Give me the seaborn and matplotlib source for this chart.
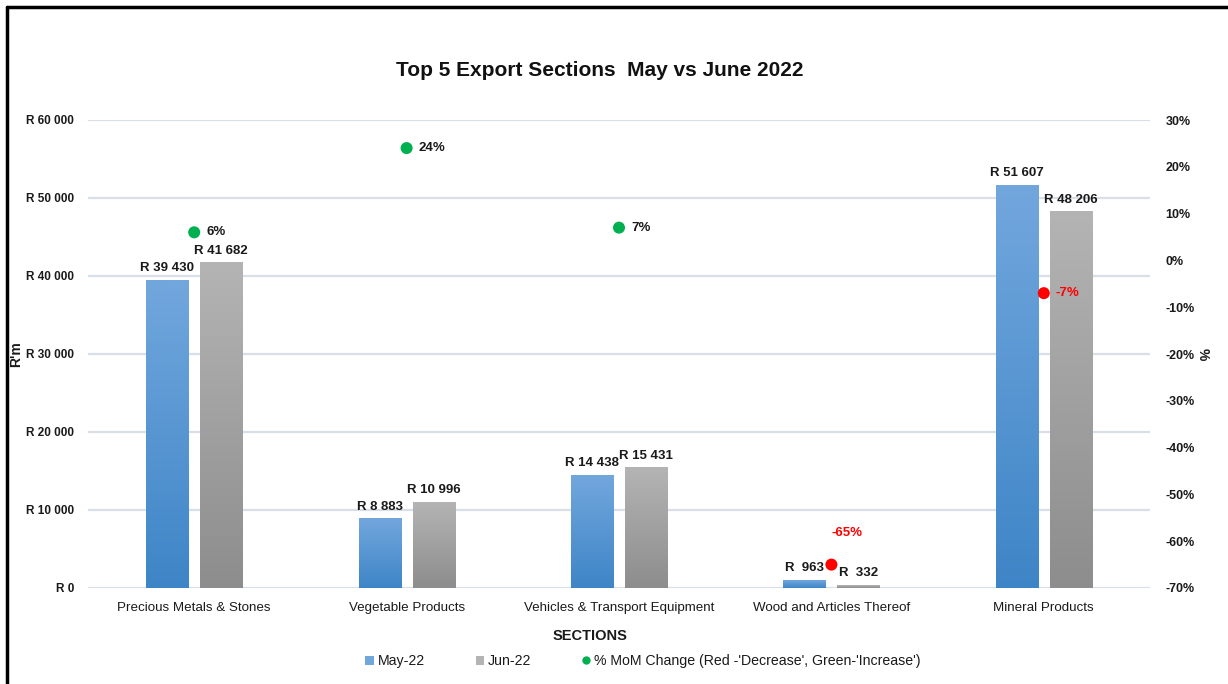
import matplotlib
matplotlib.use("Agg")
import matplotlib.pyplot as plt
import matplotlib.colors as mcolors
from matplotlib.lines import Line2D
from matplotlib.patches import Patch
import numpy as np
import pandas as pd
import seaborn as sns

# Chart data
sections = ["Precious Metals & Stones", "Vegetable Products",
            "Vehicles & Transport Equipment", "Wood and Articles Thereof",
            "Mineral Products"]
may_22 = [39430, 8883, 14438, 963, 51607]
jun_22 = [41682, 10996, 15431, 332, 48206]
mom_change = [0.06, 0.24, 0.07, -0.65, -0.07]
months = ["May-22", "Jun-22"]
left_ticks = [0, 10000, 20000, 30000, 40000, 50000, 60000]
right_ticks = [-0.7, -0.6, -0.5, -0.4, -0.3, -0.2, -0.1, 0.0, 0.1, 0.2, 0.3]

df = pd.DataFrame({
    "section": sections * 2,
    "month": [months[0]] * len(sections) + [months[1]] * len(sections),
    "value": may_22 + jun_22,
})
pct_df = pd.DataFrame({"pos": np.arange(len(sections)), "pct": mom_change})
pct_df["trend"] = np.where(pct_df["pct"] >= 0, "Increase", "Decrease")

sns.set_theme(style="white")
plt.rcParams["font.family"] = ["Liberation Sans", "DejaVu Sans"]

BLUE = ("#3E85C7", "#72A7DD")   # bottom, top
GRAY = ("#8D8D8D", "#B4B4B4")
GREEN = "#00B050"
RED = "#FF0000"
GRID = "#D9DEE7"
INK = "#1a1a1a"

fig = plt.figure(figsize=(12.28, 6.84), dpi=100)
ax = fig.add_axes([88 / 1228, 1 - 588 / 684, 1062 / 1228, 468 / 684])

sns.barplot(data=df, x="section", y="value", hue="month", order=sections,
            hue_order=months, palette=[BLUE[1], GRAY[1]], width=0.508,
            gap=0.22, legend=False, ax=ax, zorder=2)

# gradient fill on each bar + value labels
n = len(sections)
for i, bar in enumerate(ax.patches[:2 * n]):
    lo, hi = BLUE if i < n else GRAY
    cmap = mcolors.LinearSegmentedColormap.from_list("g", [lo, hi])
    x0, y0 = bar.get_x(), bar.get_y()
    w, h = bar.get_width(), bar.get_height()
    grad = np.linspace(0, 1, 256).reshape(-1, 1)
    ax.imshow(grad, cmap=cmap, origin="lower", aspect="auto",
              extent=[x0, x0 + w, y0, y0 + h], zorder=3)
    bar.set_alpha(0)
    txt = f"R {int(h):,}".replace(",", " ") if h >= 1000 else f"R  {int(h)}"
    ax.annotate(txt, (x0 + w / 2, h), xytext=(0, 6), textcoords="offset pixels",
                ha="center", va="bottom", fontsize=9.5, fontweight="bold",
                color=INK, zorder=5)

ax.set_xlim(-0.5, n - 0.5)
ax.set_ylim(0, 60000)
ax.set_yticks(left_ticks)
ax.set_yticklabels(["R 0" if t == 0 else f"R {t:,}".replace(",", " ")
                    for t in left_ticks], fontsize=8.5, fontweight="bold",
                   color=INK)
ax.tick_params(axis="y", length=0, pad=10)
ax.tick_params(axis="x", length=0, pad=10, labelsize=9.6, colors=INK)
ax.grid(axis="y", color=GRID, linewidth=1.6, zorder=0)
ax.set_axisbelow(True)
for s in ax.spines.values():
    s.set_visible(False)
ax.set_ylabel("R'm", fontsize=10, fontweight="bold", color=INK, rotation=90,
              ha="center", va="center")
ax.yaxis.set_label_coords(-0.068, 0.5)
ax.set_xlabel("")

ax2 = ax.twinx()
sns.scatterplot(data=pct_df, x="pos", y="pct", hue="trend",
                palette={"Increase": GREEN, "Decrease": RED}, s=75,
                linewidth=0, legend=False, ax=ax2, zorder=6)
ax2.set_ylim(-0.70, 0.30)
ax2.set_yticks(right_ticks)
ax2.set_yticklabels([f"{round(t * 100)}%" for t in right_ticks], fontsize=9,
                    fontweight="bold", color=INK)
ax2.tick_params(axis="y", length=0, pad=11)
for s in ax2.spines.values():
    s.set_visible(False)
ax2.set_ylabel("%", fontsize=10, fontweight="bold", rotation=270, color=INK,
               ha="center", va="center")
ax2.yaxis.set_label_coords(1.05, 0.5)
ax2.set_xlabel("")
ax2.grid(False)

for p, v in zip(pct_df["pos"], pct_df["pct"]):
    tcol = INK if v >= 0 else RED
    if v < -0.5:
        ax2.annotate(f"{round(v * 100)}%", (p, v), xytext=(16, 32),
                     textcoords="offset pixels", ha="center", va="center",
                     fontsize=9.5, fontweight="bold", color=tcol)
    else:
        ax2.annotate(f"{round(v * 100)}%", (p, v), xytext=(12, 0),
                     textcoords="offset pixels", ha="left", va="center",
                     fontsize=9.5, fontweight="bold", color=tcol)

fig.text(600 / 1228, 1 - 70 / 684, "Top 5 Export Sections  May vs June 2022",
         ha="center", va="center", fontsize=15, fontweight="bold",
         color="#111111")
fig.text(590 / 1228, 1 - 636 / 684, "SECTIONS", ha="center", va="center",
         fontsize=10.5, fontweight="bold", color=INK)

handles = [
    Patch(facecolor=BLUE[1], edgecolor="none", label=months[0]),
    Patch(facecolor=GRAY[1], edgecolor="none", label=months[1]),
    Line2D([], [], marker="o", linestyle="none", markersize=6,
           markerfacecolor=GREEN, markeredgecolor="none",
           label="% MoM Change (Red -'Decrease', Green-'Increase')"),
]
leg = fig.legend(handles=handles, loc="center",
                 bbox_to_anchor=(643 / 1228, 1 - 661 / 684), ncol=3,
                 frameon=False, fontsize=10.2, handlelength=0.6,
                 handleheight=0.6, handletextpad=0.25, columnspacing=3.6)
for t in leg.get_texts():
    t.set_color(INK)

# outer frame (top and left edges visible)
fig.add_artist(Line2D([7 / 1228, 1], [1 - 7 / 684, 1 - 7 / 684], color="black",
                      linewidth=2.5, transform=fig.transFigure))
fig.add_artist(Line2D([7 / 1228, 7 / 1228], [0, 1 - 7 / 684], color="black",
                      linewidth=2.5, transform=fig.transFigure))

fig.savefig("out.png", dpi=100, facecolor="white")
